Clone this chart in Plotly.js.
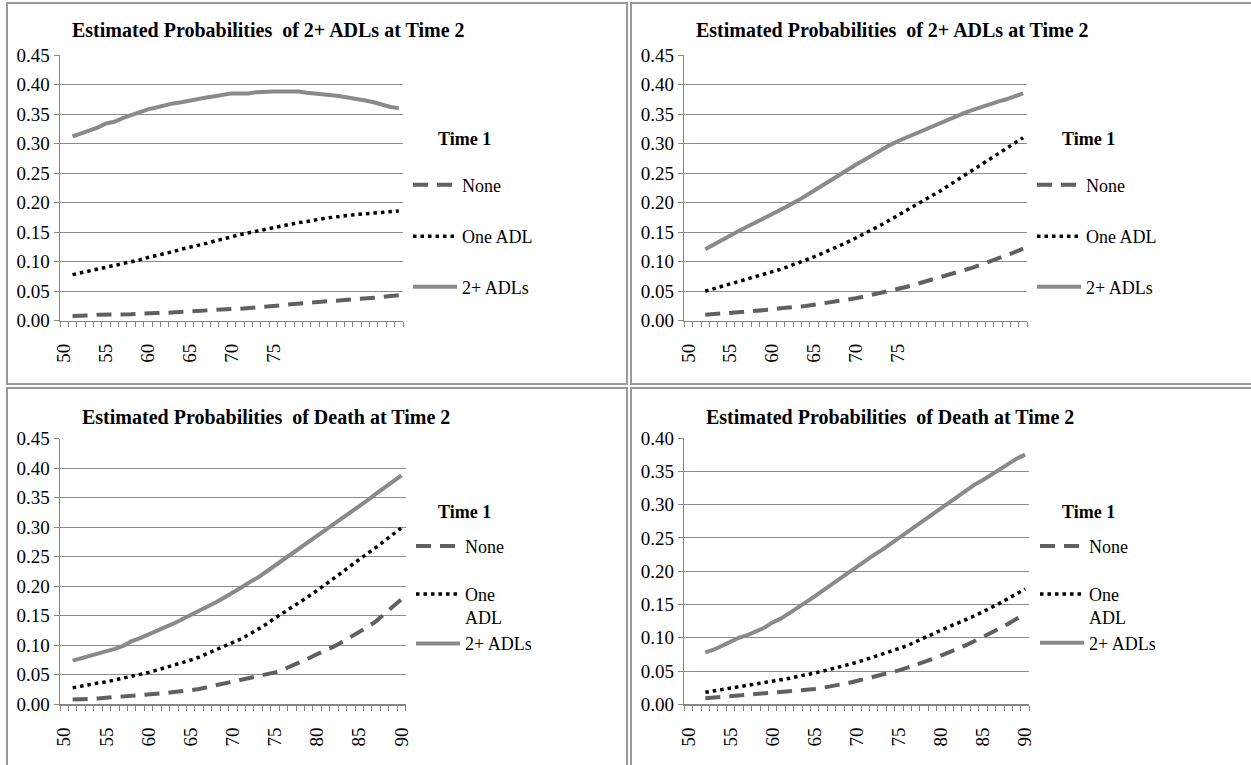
<!DOCTYPE html>
<html>
<head>
<meta charset="utf-8">
<script src="https://cdn.plot.ly/plotly-3.0.1.min.js"></script>
<style>
html,body{margin:0;padding:0;background:#fff;}
#chart{width:1251px;height:765px;}
</style>
</head>
<body>
<div id="chart"></div>
<script>
// ---------- DATA ----------
const panelTitles = [
  "Estimated Probabilities  of 2+ ADLs at Time 2",
  "Estimated Probabilities  of 2+ ADLs at Time 2",
  "Estimated Probabilities  of Death at Time 2",
  "Estimated Probabilities  of Death at Time 2"
];
const legendTitle = "Time 1";
const topSeriesNames = ["None", "One ADL", "2+ ADLs"];
const bottomSeriesNames = ["None", "One<br>ADL", "2+ ADLs"];
const topTickLabels = ["50", "55", "60", "65", "70", "75"];
const bottomTickLabels = ["50", "55", "60", "65", "70", "75", "80", "85", "90"];

const ages51 = [51,52,53,54,55,56,57,58,59,60,61,62,63,64,65,66,67,68,69,70,
                71,72,73,74,75,76,77,78,79,80,81,82,83,84,85,86,87,88,89,90];
const ages52 = [52,53,54,55,56,57,58,59,60,61,62,63,64,65,66,67,68,69,70,
                71,72,73,74,75,76,77,78,79,80,81,82,83,84,85,86,87,88,89,90];

// Panel 1 (top left) – ages 51..90
const p1None = [0.008,0.008,0.009,0.010,0.010,0.010,0.010,0.011,0.012,0.013,
                0.013,0.013,0.014,0.015,0.015,0.016,0.017,0.018,0.019,0.020,
                0.020,0.021,0.022,0.023,0.024,0.026,0.028,0.029,0.030,0.031,
                0.032,0.034,0.035,0.036,0.037,0.038,0.039,0.040,0.042,0.043];
const p1One  = [0.078,0.081,0.084,0.087,0.090,0.093,0.097,0.100,0.103,0.107,
                0.110,0.113,0.117,0.121,0.124,0.128,0.131,0.135,0.138,0.142,
                0.146,0.149,0.152,0.155,0.158,0.161,0.163,0.166,0.168,0.171,
                0.173,0.175,0.177,0.178,0.180,0.181,0.182,0.183,0.185,0.186];
const p1Two  = [0.312,0.317,0.322,0.327,0.334,0.337,0.343,0.348,0.353,0.358,
                0.361,0.365,0.368,0.370,0.373,0.375,0.378,0.380,0.383,0.385,
                0.385,0.385,0.387,0.388,0.388,0.388,0.388,0.388,0.386,0.385,
                0.383,0.382,0.380,0.378,0.375,0.373,0.370,0.366,0.362,0.360];

// Panel 2 (top right) – ages 52..90
const p2None = [0.010,0.011,0.012,0.013,0.014,0.016,0.017,0.018,0.019,
                0.021,0.022,0.023,0.025,0.027,0.029,0.031,0.033,0.035,0.038,
                0.041,0.044,0.047,0.050,0.054,0.057,0.061,0.065,0.069,0.073,
                0.077,0.081,0.085,0.090,0.095,0.100,0.105,0.110,0.116,0.122];
const p2One  = [0.050,0.054,0.059,0.063,0.067,0.071,0.075,0.079,0.083,
                0.087,0.092,0.097,0.102,0.108,0.114,0.120,0.126,0.133,0.140,
                0.147,0.154,0.162,0.170,0.178,0.186,0.194,0.202,0.210,0.219,
                0.228,0.237,0.246,0.255,0.264,0.273,0.282,0.291,0.300,0.310];
const p2Two  = [0.121,0.129,0.136,0.144,0.152,0.159,0.166,0.173,0.180,
                0.188,0.195,0.203,0.211,0.220,0.229,0.238,0.247,0.256,0.264,
                0.272,0.281,0.289,0.297,0.304,0.310,0.316,0.323,0.329,0.335,
                0.341,0.346,0.352,0.357,0.362,0.367,0.371,0.375,0.380,0.385];

// Panel 3 (bottom left) – ages 51..90
const p3None = [0.008,0.008,0.009,0.010,0.011,0.012,0.014,0.015,0.016,0.017,
                0.018,0.019,0.021,0.022,0.024,0.026,0.029,0.032,0.035,0.038,
                0.042,0.045,0.048,0.051,0.054,0.059,0.065,0.071,0.078,0.085,
                0.091,0.098,0.106,0.114,0.122,0.131,0.141,0.153,0.165,0.178];
const p3One  = [0.028,0.031,0.034,0.036,0.038,0.041,0.044,0.048,0.051,0.054,
                0.058,0.062,0.066,0.070,0.075,0.080,0.086,0.092,0.098,0.104,
                0.111,0.119,0.127,0.136,0.146,0.155,0.164,0.173,0.183,0.193,
                0.203,0.214,0.224,0.235,0.246,0.256,0.266,0.277,0.288,0.299];
const p3Two  = [0.074,0.078,0.082,0.085,0.089,0.094,0.099,0.107,0.112,0.118,
                0.124,0.131,0.137,0.144,0.151,0.158,0.165,0.173,0.181,0.189,
                0.198,0.207,0.215,0.225,0.235,0.244,0.254,0.265,0.276,0.286,
                0.296,0.306,0.316,0.326,0.336,0.346,0.357,0.367,0.378,0.388];

// Panel 4 (bottom right) – ages 52..90
const p4None = [0.009,0.010,0.011,0.012,0.013,0.014,0.015,0.016,0.017,
                0.018,0.019,0.020,0.022,0.023,0.025,0.027,0.029,0.032,0.035,
                0.038,0.041,0.044,0.048,0.051,0.055,0.059,0.063,0.068,0.073,
                0.078,0.083,0.089,0.095,0.101,0.107,0.114,0.121,0.128,0.136];
const p4One  = [0.018,0.020,0.023,0.025,0.027,0.029,0.031,0.033,0.035,
                0.037,0.039,0.042,0.044,0.047,0.050,0.053,0.056,0.060,0.063,
                0.067,0.071,0.075,0.079,0.083,0.088,0.094,0.100,0.106,0.112,
                0.117,0.122,0.127,0.133,0.139,0.145,0.152,0.159,0.166,0.173];
const p4Two  = [0.078,0.082,0.088,0.094,0.100,0.104,0.109,0.115,0.123,
                0.129,0.137,0.145,0.154,0.162,0.171,0.180,0.189,0.198,0.206,
                0.215,0.224,0.232,0.241,0.250,0.259,0.268,0.277,0.286,0.295,
                0.304,0.313,0.322,0.330,0.337,0.345,0.352,0.361,0.369,0.375];

const yMaxes = [0.45, 0.45, 0.45, 0.40];

// ---------- LAYOUT HELPERS ----------
const W = 1251, H = 765;
const px = v => v / W;
const py = v => 1 - v / H;
const FONT = "Liberation Serif";

const panels = [
  {ages: ages51, series: [p1None, p1One, p1Two], names: topSeriesNames, ticks: topTickLabels},
  {ages: ages52, series: [p2None, p2One, p2Two], names: topSeriesNames, ticks: topTickLabels},
  {ages: ages51, series: [p3None, p3One, p3Two], names: bottomSeriesNames, ticks: bottomTickLabels},
  {ages: ages52, series: [p4None, p4One, p4Two], names: bottomSeriesNames, ticks: bottomTickLabels}
];

const boxes = [
  {l: 60,    r: 403,    t: 55,    b: 320.7},
  {l: 684.3, r: 1027.3, t: 55,    b: 320.7},
  {l: 60,    r: 405.7,  t: 438.7, b: 704.3},
  {l: 684.3, r: 1029.3, t: 438,   b: 704.3}
];
const frames = [
  {x0: 7,   x1: 627,  y0: 3,   y1: 384},
  {x0: 631, x1: 1258, y0: 3,   y1: 384},
  {x0: 7,   x1: 627,  y0: 388, y1: 772},
  {x0: 631, x1: 1258, y0: 388, y1: 772}
];
const titlePos = [[268, 30], [892.6, 30], [265.7, 417.5], [890, 417.5]];
const time1Pos = [[464.5, 139], [1088.7, 139], [464.5, 511.7], [1088.7, 511.7]];
const legendLeft = [408, 1032, 411, 1035];
const legendYs = [[185, 236.5, 287], [185, 236.5, 287], [546.3, 605.7, 643.7], [546.3, 605.7, 643]];

const styles = [
  {color: '#606060', width: 4,   dash: '15px,9px'},
  {color: '#000000', width: 3.5, dash: '3.5px,4px'},
  {color: '#8a8a8a', width: 4,   dash: 'solid'}
];

const traces = [];
const layout = {
  width: W, height: H,
  margin: {l: 0, r: 0, t: 0, b: 0},
  paper_bgcolor: '#ffffff',
  plot_bgcolor: '#ffffff',
  showlegend: true,
  font: {family: FONT, size: 18, color: '#000000'},
  annotations: [],
  shapes: []
};

panels.forEach((p, k) => {
  const suf = k === 0 ? '' : String(k + 1);
  const b = boxes[k];
  p.series.forEach((vals, j) => {
    const n = k * 3 + j + 1;
    const legId = n === 1 ? 'legend' : 'legend' + n;
    traces.push({
      type: 'scatter', mode: 'lines',
      x: p.ages, y: vals,
      name: p.names[j],
      xaxis: 'x' + suf, yaxis: 'y' + suf,
      line: Object.assign({shape: 'linear'}, styles[j]),
      legend: legId,
      hoverinfo: 'skip'
    });
    layout[legId] = {
      x: px(legendLeft[k]), xanchor: 'left',
      y: py(legendYs[k][j]), yanchor: 'middle',
      bgcolor: 'rgba(0,0,0,0)', borderwidth: 0,
      font: {family: FONT, size: 18, color: '#000000'},
      valign: 'top', tracegroupgap: 0, itemwidth: 44
    };
  });

  layout['xaxis' + suf] = {
    domain: [px(b.l), px(b.r)],
    anchor: 'y' + suf,
    range: [49.5, 90.5],
    tickmode: 'array',
    tickvals: p.ticks.map(Number),
    ticktext: p.ticks,
    tickangle: -90,
    ticks: '',
    ticklabelstandoff: 14,
    tickfont: {family: FONT, size: 19, color: '#000000'},
    showgrid: false, zeroline: false,
    showline: true, linecolor: '#868686', linewidth: 1.5,
    minor: {tickmode: 'linear', tick0: 49.5, dtick: 1, ticks: 'outside',
            ticklen: 5, tickwidth: 1, tickcolor: '#868686', showgrid: false},
    fixedrange: true
  };
  layout['yaxis' + suf] = {
    domain: [py(b.b), py(b.t)],
    anchor: 'x' + suf,
    range: [0, yMaxes[k] + 1e-6],
    tickmode: 'linear', tick0: 0, dtick: 0.05,
    tickformat: '.2f',
    ticks: 'outside', ticklen: 5, tickwidth: 1, tickcolor: '#868686',
    tickfont: {family: FONT, size: 19, color: '#000000'},
    showgrid: true, gridcolor: '#8c8c8c', gridwidth: 1,
    zeroline: false,
    showline: true, linecolor: '#868686', linewidth: 1.5,
    fixedrange: true
  };

  layout.annotations.push({
    xref: 'paper', yref: 'paper',
    x: px(titlePos[k][0]), y: py(titlePos[k][1]),
    xanchor: 'center', yanchor: 'middle',
    text: '<b>' + panelTitles[k] + '</b>',
    showarrow: false,
    font: {family: FONT, size: 20, color: '#000000'}
  });
  layout.annotations.push({
    xref: 'paper', yref: 'paper',
    x: px(time1Pos[k][0]), y: py(time1Pos[k][1]),
    xanchor: 'center', yanchor: 'middle',
    text: '<b>' + legendTitle + '</b>',
    showarrow: false,
    font: {family: FONT, size: 18, color: '#000000'}
  });
  const f = frames[k];
  layout.shapes.push({
    type: 'rect', xref: 'paper', yref: 'paper',
    x0: px(f.x0), x1: px(f.x1), y0: py(f.y0), y1: py(f.y1),
    line: {color: '#9a9a9a', width: 2}, fillcolor: 'rgba(0,0,0,0)',
    layer: 'below'
  });
});

Plotly.newPlot('chart', traces, layout, {displayModeBar: false, staticPlot: true});
</script>
</body>
</html>
